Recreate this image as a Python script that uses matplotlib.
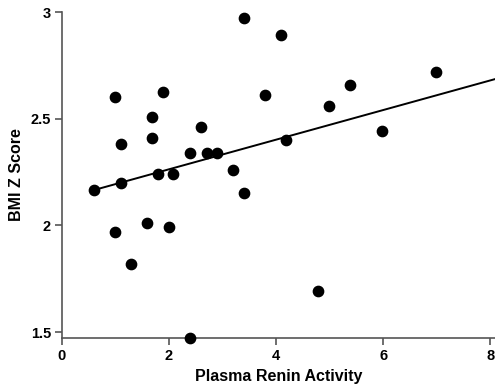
import matplotlib
matplotlib.use("Agg")
import matplotlib.pyplot as plt
import numpy as np

plt.rcParams['font.family'] = ['Liberation Sans', 'DejaVu Sans']

# values
renin = [0.6, 0.99, 1.1, 1.1, 1.69, 1.69, 1.89, 1.79, 2.08, 2.39, 2.59, 2.7, 2.9,
         3.2, 3.4, 3.4, 4.09, 3.79, 4.19, 4.99, 5.38, 5.98, 6.99,
         0.99, 1.29, 1.59, 2.0, 2.39, 4.79]
bmi_z = [2.166, 2.60, 2.38, 2.20, 2.51, 2.41, 2.625, 2.24, 2.24, 2.34, 2.46, 2.34, 2.34,
         2.26, 2.97, 2.15, 2.89, 2.61, 2.40, 2.56, 2.66, 2.44, 2.72,
         1.97, 1.82, 2.01, 1.99, 1.47, 1.69]

# regression line as drawn
fit_x = [0.6, 8.2]
fit_slope = 0.0694
fit_intercept = 2.124

xticks = [0, 2, 4, 6, 8]
yticks = [1.5, 2, 2.5, 3]
ytick_labels = ['1.5', '2', '2.5', '3']

fig = plt.figure(figsize=(4.95, 3.85), dpi=100)
ax = fig.add_axes([62/495, 47/385, 433/495, 326/385])

ax.scatter(renin, bmi_z, s=55, color='black', zorder=3, clip_on=False)
fx = np.array(fit_x)
ax.plot(fx, fit_intercept + fit_slope * fx, color='black', lw=1.4)

ax.set_xlim(0, 8.09)
ax.set_ylim(1.472, 3.0)
ax.set_xticks(xticks)
ax.set_yticks(yticks)
ax.set_yticklabels(ytick_labels)

for s in ['top', 'right']:
    ax.spines[s].set_visible(False)
for s in ['left', 'bottom']:
    ax.spines[s].set_color('#555555')
    ax.spines[s].set_linewidth(1.2)
ax.spines['left'].set_bounds(1.472, 3.0)

ax.tick_params(direction='out', length=5, width=1.2, color='#555555',
               labelsize=10.5, pad=3)
for lab in ax.get_xticklabels() + ax.get_yticklabels():
    lab.set_fontweight('bold')

ax.set_xlabel('Plasma Renin Activity', fontsize=11.5, fontweight='bold', labelpad=4)
ax.set_ylabel('BMI Z Score', fontsize=11.5, fontweight='bold', labelpad=5)

fig.savefig('out.png', dpi=100)
